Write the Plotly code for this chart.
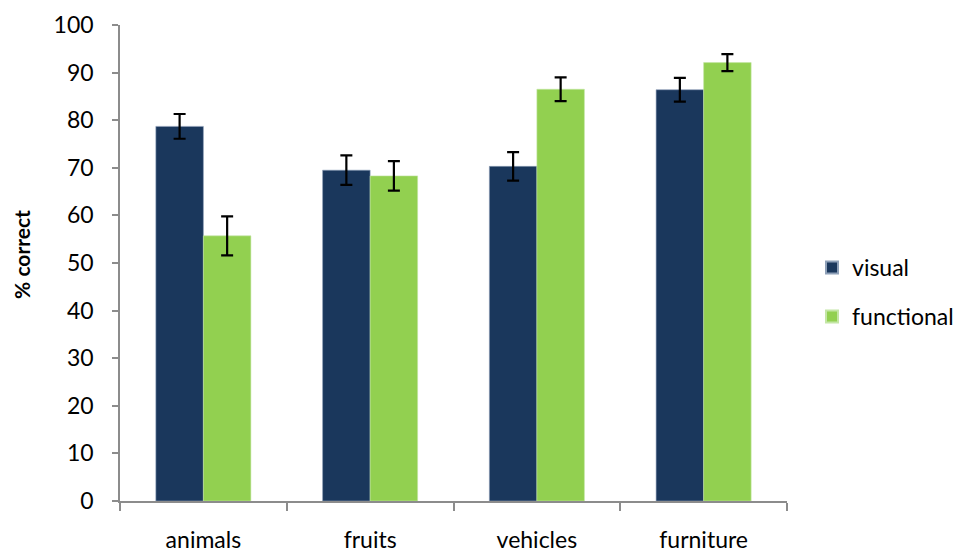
import plotly.graph_objects as go

categories = ["animals", "fruits", "vehicles", "furniture"]
visual = [78.7, 69.5, 70.3, 86.4]
visual_err = [2.6, 3.1, 3.0, 2.5]
functional = [55.7, 68.3, 86.5, 92.1]
functional_err = [4.1, 3.1, 2.5, 1.8]
y_ticks = list(range(0, 101, 10))

FONT = "Lato, 'Open Sans', sans-serif"

fig = go.Figure()
fig.add_trace(go.Bar(
    name="visual", x=categories, y=visual, legendgroup="v",
    marker=dict(color="#1a375c", line=dict(color="#8ea0b8", width=0.6)),
    error_y=dict(type="data", array=visual_err, color="black", thickness=2.2, width=6),
))
fig.add_trace(go.Bar(
    name="functional", x=categories, y=functional, legendgroup="f",
    marker=dict(color="#92d050", line=dict(color="#c4e6a6", width=0.6)),
    error_y=dict(type="data", array=functional_err, color="black", thickness=2.2, width=6),
))

# page body has an 8px default margin, so the figure is sized to fit the window
fig.update_layout(
    width=956, height=547,
    margin=dict(l=112, r=177, t=17, b=54, autoexpand=False),
    paper_bgcolor="white", plot_bgcolor="white",
    barmode="group", bargap=0.43, bargroupgap=0,
    font=dict(family=FONT, size=23, color="black"),
    legend=dict(x=1.0375, y=0.439, xanchor="left", yanchor="middle",
                font=dict(size=23), tracegroupgap=16, traceorder="grouped",
                itemsizing="constant"),
    showlegend=True,
    annotations=[dict(
        text="<b>% correct</b>", textangle=-90, showarrow=False,
        xref="paper", yref="paper", x=-0.147, y=0.519,
        xanchor="center", yanchor="middle", font=dict(size=21),
    )],
)
fig.update_xaxes(
    automargin=False,
    showline=True, linecolor="#8c8c8c", linewidth=1.5,
    ticks="outside", ticklen=8, tickcolor="#8c8c8c", tickwidth=1.5,
    tickson="boundaries", ticklabelstandoff=18,
    showgrid=False, zeroline=False,
)
fig.update_yaxes(
    automargin=False,
    range=[0, 100], tickvals=y_ticks,
    showline=True, linecolor="#8c8c8c", linewidth=1.5,
    ticks="outside", ticklen=6, tickcolor="#8c8c8c", tickwidth=1.5,
    ticklabelstandoff=14,
    showgrid=False, zeroline=False,
)

fig.write_html("out.html")
